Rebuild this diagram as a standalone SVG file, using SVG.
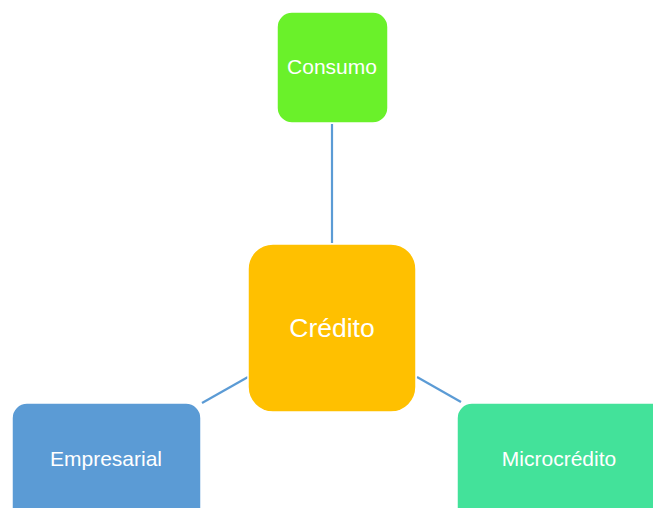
<svg xmlns="http://www.w3.org/2000/svg" width="653" height="508" viewBox="0 0 653 508">
<style>
.lbl{font-family:"Liberation Sans","Open Sans",sans-serif;fill:#ffffff;text-anchor:middle}
.sm{font-size:21px}
.lg{font-size:26.5px}
.con line{stroke:#5B9BD5;stroke-width:2.2}
.box{stroke:#ffffff;stroke-width:1.5}
</style>
<rect width="653" height="508" fill="#ffffff"/>
<g id="connectors" class="con">
<line x1="332" y1="124" x2="332" y2="243"/>
<line x1="202" y1="403" x2="248" y2="377"/>
<line x1="417" y1="377" x2="461" y2="402"/>
</g>
<g id="consumo">
<rect class="box" x="277" y="12" width="111" height="111" rx="15" fill="#6AF12A"/>
<text class="lbl sm" x="332" y="74">Consumo</text>
</g>
<g id="credito">
<rect class="box" x="248" y="244" width="168" height="168" rx="25" fill="#FFC000"/>
<text class="lbl lg" x="332" y="337">Crédito</text>
</g>
<g id="empresarial">
<rect class="box" x="12" y="403" width="189" height="125" rx="15" fill="#5B9BD5"/>
<text class="lbl sm" x="106" y="466">Empresarial</text>
</g>
<g id="microcredito">
<rect class="box" x="457" y="403" width="215" height="125" rx="15" fill="#43E29A"/>
<text class="lbl sm" x="559" y="466">Microcrédito</text>
</g>
</svg>
